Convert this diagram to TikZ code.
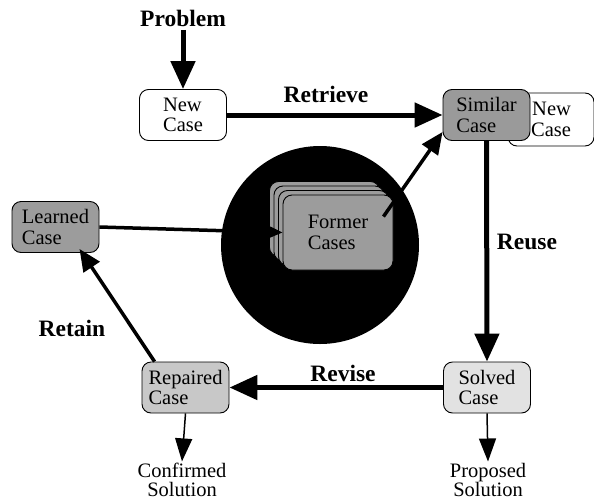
\documentclass[tikz,border=0pt]{standalone}
\usepackage{fontspec}
\setmainfont{Liberation Serif}
\usetikzlibrary{arrows.meta,positioning}
\definecolor{simgray}{HTML}{9A9A9A}
\definecolor{oldgray}{HTML}{9C9C9C}
\definecolor{fixgray}{HTML}{C8C8C8}
\definecolor{solgray}{HTML}{E2E2E2}
\tikzset{
  casebox/.style={draw=black, line width=0.9pt, rounded corners=9pt,
    minimum width=87pt, minimum height=51pt, inner sep=1pt, align=left,
    font=\fontsize{20.5}{20.5}\selectfont},
  stage/.style={font=\bfseries\fontsize{23.5}{24}\selectfont},
  outlab/.style={align=center, font=\fontsize{20.5}{19.5}\selectfont},
  flow/.style={draw=black, line width=5pt, -{Triangle[length=28pt,width=24pt]}},
  midflow/.style={draw=black, line width=3.5pt, -{Triangle[length=22pt,width=19pt]}},
  outflow/.style={draw=black, line width=1.5pt, -{Triangle[length=23pt,width=17pt]}},
}
\begin{document}
\begin{tikzpicture}[x=1pt,y=-1pt]
  \useasboundingbox (0,0) rectangle (594,501);

  % case base in the middle
  \fill[black] (320,245) circle (99pt);
  \foreach \d in {13.5,9,4.5}
    \draw[line width=0.9pt, rounded corners=9pt, fill=oldgray]
      (283-\d,195-\d) rectangle (393-\d,270-\d);
  \node[casebox, fill=oldgray, minimum width=110pt, minimum height=75pt] (fc) at (338,232.5) {Former\\Cases};

  % the four stages
  \node[casebox, fill=white] (nc) at (183,115) {\hfil New\hfil\\\hfil Case\hfil};
  \node[casebox, fill=white, minimum width=86pt, minimum height=53pt, align=right] (nc2) at (551,119.5) {New\\Case};
  \node[casebox, fill=simgray] (sc) at (486.5,115) {Similar\\Case};
  \node[casebox, fill=solgray] (sv) at (487,387.5) {Solved\\Case};
  \node[casebox, fill=fixgray] (rc) at (185.5,387.5) {Repaired\\Case};
  \node[casebox, fill=oldgray] (lc) at (55.5,227) {Learned\\Case};

  \node[stage] (prob) at (183,18) {Problem};
  \node[stage] (ret) at (326,94) {Retrieve};
  \node[stage] (reu) at (527,242) {Reuse};
  \node[stage] (rev) at (343,373) {Revise};
  \node[stage] (rtn) at (72,328) {Retain};

  \node[outlab] (conf) at (182,480) {Confirmed\\Solution};
  \node[outlab] (prop) at (488,480) {Proposed\\Solution};

  % connectors
  \draw[flow] (prob.south) -- (nc.north);
  \draw[flow] (nc.east) -- (sc.west);
  \draw[flow] (sc.south) -- (sv.north);
  \draw[flow] (sv.west) -- (rc.east);
  \draw[midflow] ([xshift=13pt]rc.north west) -- ([xshift=24pt,yshift=4pt]lc.south);
  \draw[midflow] (lc.east) -- (fc.west);
  \draw[midflow] ([xshift=-10pt,yshift=-22pt]fc.north east) -- ([yshift=9pt]sc.south west);
  \draw[outflow] (rc.south) -- ([yshift=-2pt]conf.north);
  \draw[outflow] (sv.south) -- ([yshift=-2pt]prop.north);
\end{tikzpicture}
\end{document}
